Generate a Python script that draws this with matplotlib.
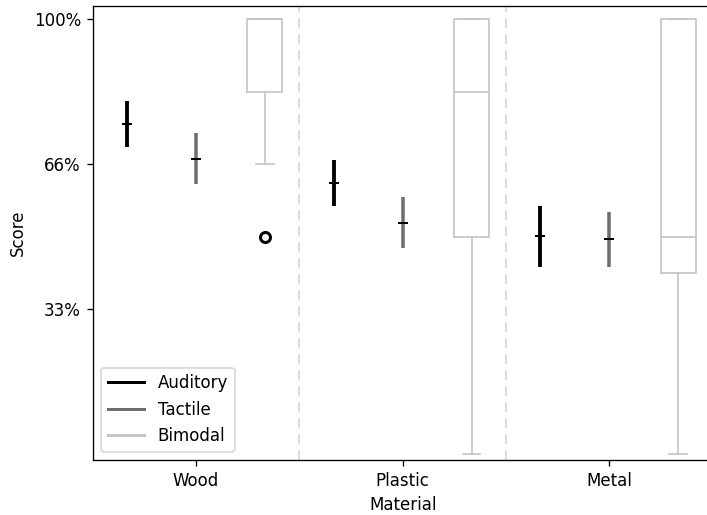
import matplotlib
matplotlib.use("Agg")
import matplotlib.pyplot as plt
from matplotlib.lines import Line2D
import numpy as np

materials = ["Wood", "Plastic", "Metal"]

# auditory / tactile: mean with lower and upper bound
auditory_mean = [0.758, 0.623, 0.502]
auditory_low = [0.706, 0.571, 0.430]
auditory_high = [0.812, 0.676, 0.570]

tactile_mean = [0.679, 0.531, 0.495]
tactile_low = [0.620, 0.473, 0.430]
tactile_high = [0.738, 0.590, 0.557]

# bimodal: box plot summary per material
bimodal_q1 = [5 / 6, 0.5, 5 / 12]
bimodal_med = [1.0, 5 / 6, 0.5]
bimodal_q3 = [1.0, 1.0, 1.0]
bimodal_whislo = [2 / 3, 0.0, 0.0]
bimodal_whishi = [1.0, 1.0, 1.0]
bimodal_fliers = [[0.5], [], []]

ytick_vals = [1 / 3, 2 / 3, 1.0]
ytick_labels = ["33%", "66%", "100%"]

c_aud = "black"
c_tac = "#6e6e6e"
c_bim = "#c4c4c4"

fig = plt.figure(figsize=(707 / 120, 515 / 120), dpi=120)
ax = fig.add_axes([0.131, 0.107, 0.877, 0.882])

x = np.arange(len(materials))
off = 1 / 3

ax.vlines(x - off, auditory_low, auditory_high, color=c_aud, lw=2.3)
ax.plot(x - off, auditory_mean, ls="none", marker="_", ms=6.5, mew=1.2, color="black")

ax.vlines(x, tactile_low, tactile_high, color=c_tac, lw=2.1)
ax.plot(x, tactile_mean, ls="none", marker="_", ms=6.5, mew=1.2, color="black")

stats = []
for i in range(len(materials)):
    stats.append(dict(q1=bimodal_q1[i], med=bimodal_med[i], q3=bimodal_q3[i],
                      whislo=bimodal_whislo[i], whishi=bimodal_whishi[i],
                      fliers=bimodal_fliers[i]))
line_style = dict(color=c_bim, linewidth=1.0)
ax.bxp(stats, positions=x + off, widths=0.17, manage_ticks=False,
       boxprops=line_style, whiskerprops=line_style, capprops=line_style,
       medianprops=line_style,
       flierprops=dict(marker="o", markerfacecolor="none", markeredgecolor="black",
                       markersize=6, markeredgewidth=1.8))

# separators between materials
for d in [0.5, 1.5]:
    ax.axvline(d, color="#dcdcdc", ls=(0, (5, 3)), lw=1.2, zorder=0)

ax.set_xlim(-0.5, 2.5)
ax.set_ylim(-0.0138, 1.031)
ax.set_xticks(x)
ax.set_xticklabels(materials)
ax.set_yticks(ytick_vals)
ax.set_yticklabels(ytick_labels)
ax.set_xlabel("Material")
ax.set_ylabel("Score")

handles = [Line2D([], [], color=c_aud, lw=1.8),
           Line2D([], [], color=c_tac, lw=1.8),
           Line2D([], [], color=c_bim, lw=1.8)]
ax.legend(handles, ["Auditory", "Tactile", "Bimodal"], loc="lower left",
          handlelength=2.2)

fig.savefig("out.png", dpi=120)
